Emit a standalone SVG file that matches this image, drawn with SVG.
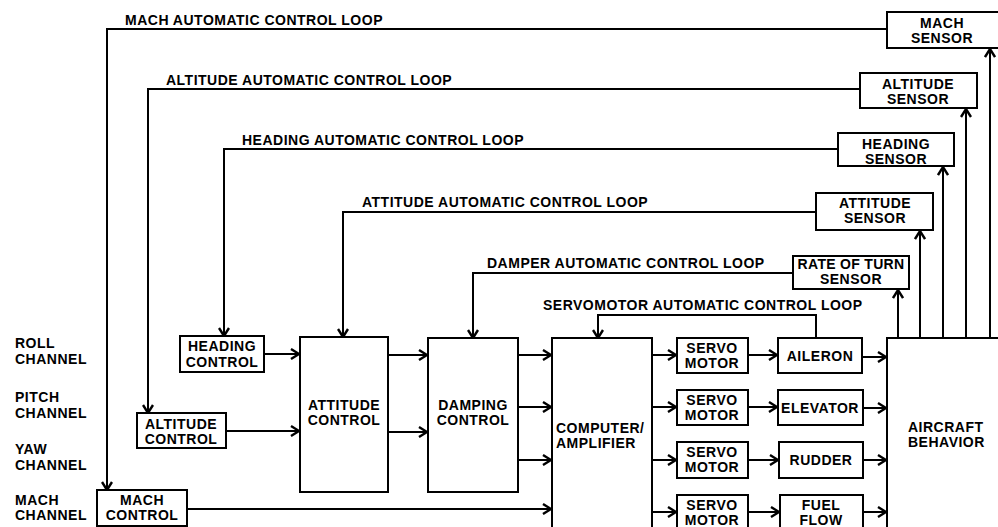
<svg xmlns="http://www.w3.org/2000/svg" width="998" height="527" viewBox="0 0 998 527">
<style>
text{font-family:"Liberation Sans",Arial,sans-serif;font-weight:bold;font-size:14px;letter-spacing:0.5px;fill:#000}
.c{text-anchor:middle}
.b{fill:#fff;stroke:#000;stroke-width:2}
.l{fill:none;stroke:#000;stroke-width:2}
</style>
<defs>
<marker id="a" viewBox="0 0 10 12" refX="9" refY="6" markerWidth="10" markerHeight="12" orient="auto" markerUnits="userSpaceOnUse">
<path d="M1,1 L9,6 L1,11" fill="none" stroke="#000" stroke-width="2.4"/>
</marker>
</defs>
<rect width="998" height="527" fill="#fff"/>

<g id="channels">
<text x="15" y="348">ROLL</text><text x="15" y="364">CHANNEL</text>
<text x="15" y="402">PITCH</text><text x="15" y="418">CHANNEL</text>
<text x="15" y="454">YAW</text><text x="15" y="470">CHANNEL</text>
<text x="15" y="505">MACH</text><text x="15" y="520">CHANNEL</text>
</g>

<g id="connectors">
<polyline class="l" points="887,29 107,29 107,490" marker-end="url(#a)"/>
<polyline class="l" points="860,89 148,89 148,413" marker-end="url(#a)"/>
<polyline class="l" points="838,149 224,149 224,336" marker-end="url(#a)"/>
<polyline class="l" points="816,212 343,212 343,337" marker-end="url(#a)"/>
<polyline class="l" points="793,273 473,273 473,338" marker-end="url(#a)"/>
<polyline class="l" points="816,338 816,315 598,315 598,338" marker-end="url(#a)"/>
<line class="l" x1="898" y1="338" x2="898" y2="290" marker-end="url(#a)"/>
<line class="l" x1="920" y1="338" x2="920" y2="231" marker-end="url(#a)"/>
<line class="l" x1="943" y1="338" x2="943" y2="167" marker-end="url(#a)"/>
<line class="l" x1="966" y1="338" x2="966" y2="109" marker-end="url(#a)"/>
<line class="l" x1="990" y1="338" x2="990" y2="49" marker-end="url(#a)"/>
<line class="l" x1="264" y1="354" x2="299" y2="354" marker-end="url(#a)"/>
<line class="l" x1="226" y1="431" x2="299" y2="431" marker-end="url(#a)"/>
<line class="l" x1="388" y1="355" x2="427" y2="355" marker-end="url(#a)"/>
<line class="l" x1="388" y1="432" x2="427" y2="432" marker-end="url(#a)"/>
<line class="l" x1="518" y1="355" x2="551" y2="355" marker-end="url(#a)"/>
<line class="l" x1="518" y1="407" x2="551" y2="407" marker-end="url(#a)"/>
<line class="l" x1="518" y1="460" x2="551" y2="460" marker-end="url(#a)"/>
<line class="l" x1="187" y1="509" x2="551" y2="509" marker-end="url(#a)"/>
<line class="l" x1="652" y1="355" x2="676" y2="355" marker-end="url(#a)"/>
<line class="l" x1="652" y1="407" x2="676" y2="407" marker-end="url(#a)"/>
<line class="l" x1="652" y1="460" x2="676" y2="460" marker-end="url(#a)"/>
<line class="l" x1="652" y1="512" x2="676" y2="512" marker-end="url(#a)"/>
<line class="l" x1="748" y1="355" x2="777" y2="355" marker-end="url(#a)"/>
<line class="l" x1="748" y1="407" x2="777" y2="407" marker-end="url(#a)"/>
<line class="l" x1="748" y1="460" x2="778" y2="460" marker-end="url(#a)"/>
<line class="l" x1="748" y1="512" x2="779" y2="512" marker-end="url(#a)"/>
<line class="l" x1="862" y1="357" x2="886" y2="357" marker-end="url(#a)"/>
<line class="l" x1="863" y1="408" x2="886" y2="408" marker-end="url(#a)"/>
<line class="l" x1="863" y1="460" x2="886" y2="460" marker-end="url(#a)"/>
<line class="l" x1="863" y1="512" x2="886" y2="512" marker-end="url(#a)"/>
<text x="125" y="25">MACH AUTOMATIC CONTROL LOOP</text>
<text x="166" y="85">ALTITUDE AUTOMATIC CONTROL LOOP</text>
<text x="242" y="145">HEADING AUTOMATIC CONTROL LOOP</text>
<text x="362" y="207">ATTITUDE AUTOMATIC CONTROL LOOP</text>
<text x="487" y="268">DAMPER AUTOMATIC CONTROL LOOP</text>
<text x="543" y="310">SERVOMOTOR AUTOMATIC CONTROL LOOP</text>
</g>

<g id="mach-sensor"><rect class="b" x="887" y="12" width="115" height="36"/><text class="c" x="942" y="28">MACH</text><text class="c" x="942" y="43">SENSOR</text></g>
<g id="altitude-sensor"><rect class="b" x="860" y="73" width="117" height="35"/><text class="c" x="918" y="89">ALTITUDE</text><text class="c" x="918" y="104">SENSOR</text></g>
<g id="heading-sensor"><rect class="b" x="838" y="133" width="116" height="33"/><text class="c" x="896" y="149">HEADING</text><text class="c" x="896" y="164">SENSOR</text></g>
<g id="attitude-sensor"><rect class="b" x="816" y="193" width="117" height="37"/><text class="c" x="875" y="208">ATTITUDE</text><text class="c" x="875" y="223">SENSOR</text></g>
<g id="rate-of-turn-sensor"><rect class="b" x="793" y="256" width="116" height="33"/><text class="c" x="851" y="269" style="letter-spacing:0.3px">RATE OF TURN</text><text class="c" x="851" y="284">SENSOR</text></g>

<g id="heading-control"><rect class="b" x="180" y="336" width="84" height="36"/><text class="c" x="222" y="351">HEADING</text><text class="c" x="222" y="367">CONTROL</text></g>
<g id="altitude-control"><rect class="b" x="137" y="413" width="89" height="35"/><text class="c" x="181" y="429">ALTITUDE</text><text class="c" x="181" y="444">CONTROL</text></g>
<g id="mach-control"><rect class="b" x="97" y="490" width="90" height="36"/><text class="c" x="142" y="505">MACH</text><text class="c" x="142" y="520">CONTROL</text></g>
<g id="attitude-control"><rect class="b" x="300" y="337" width="88" height="155"/><text class="c" x="344" y="410">ATTITUDE</text><text class="c" x="344" y="425">CONTROL</text></g>
<g id="damping-control"><rect class="b" x="428" y="338" width="90" height="154"/><text class="c" x="473" y="410">DAMPING</text><text class="c" x="473" y="425">CONTROL</text></g>
<g id="computer-amplifier"><rect class="b" x="552" y="338" width="100" height="200"/><text x="556" y="433">COMPUTER/</text><text x="556" y="448">AMPLIFIER</text></g>

<g id="servo-1"><rect class="b" x="677" y="338" width="71" height="35"/><text class="c" x="712" y="353">SERVO</text><text class="c" x="712" y="368">MOTOR</text></g>
<g id="servo-2"><rect class="b" x="677" y="390" width="71" height="35"/><text class="c" x="712" y="405">SERVO</text><text class="c" x="712" y="420">MOTOR</text></g>
<g id="servo-3"><rect class="b" x="677" y="442" width="71" height="36"/><text class="c" x="712" y="457">SERVO</text><text class="c" x="712" y="472">MOTOR</text></g>
<g id="servo-4"><rect class="b" x="677" y="495" width="71" height="36"/><text class="c" x="712" y="510">SERVO</text><text class="c" x="712" y="525">MOTOR</text></g>

<g id="aileron"><rect class="b" x="778" y="338" width="84" height="35"/><text class="c" x="820" y="361">AILERON</text></g>
<g id="elevator"><rect class="b" x="778" y="390" width="85" height="35"/><text class="c" x="820" y="413">ELEVATOR</text></g>
<g id="rudder"><rect class="b" x="779" y="442" width="84" height="36"/><text class="c" x="821" y="465">RUDDER</text></g>
<g id="fuel-flow"><rect class="b" x="780" y="495" width="83" height="36"/><text class="c" x="821" y="510">FUEL</text><text class="c" x="821" y="525">FLOW</text></g>

<g id="aircraft-behavior"><rect class="b" x="887" y="338" width="120" height="200"/><text x="908" y="432">AIRCRAFT</text><text x="908" y="447">BEHAVIOR</text></g>
</svg>
